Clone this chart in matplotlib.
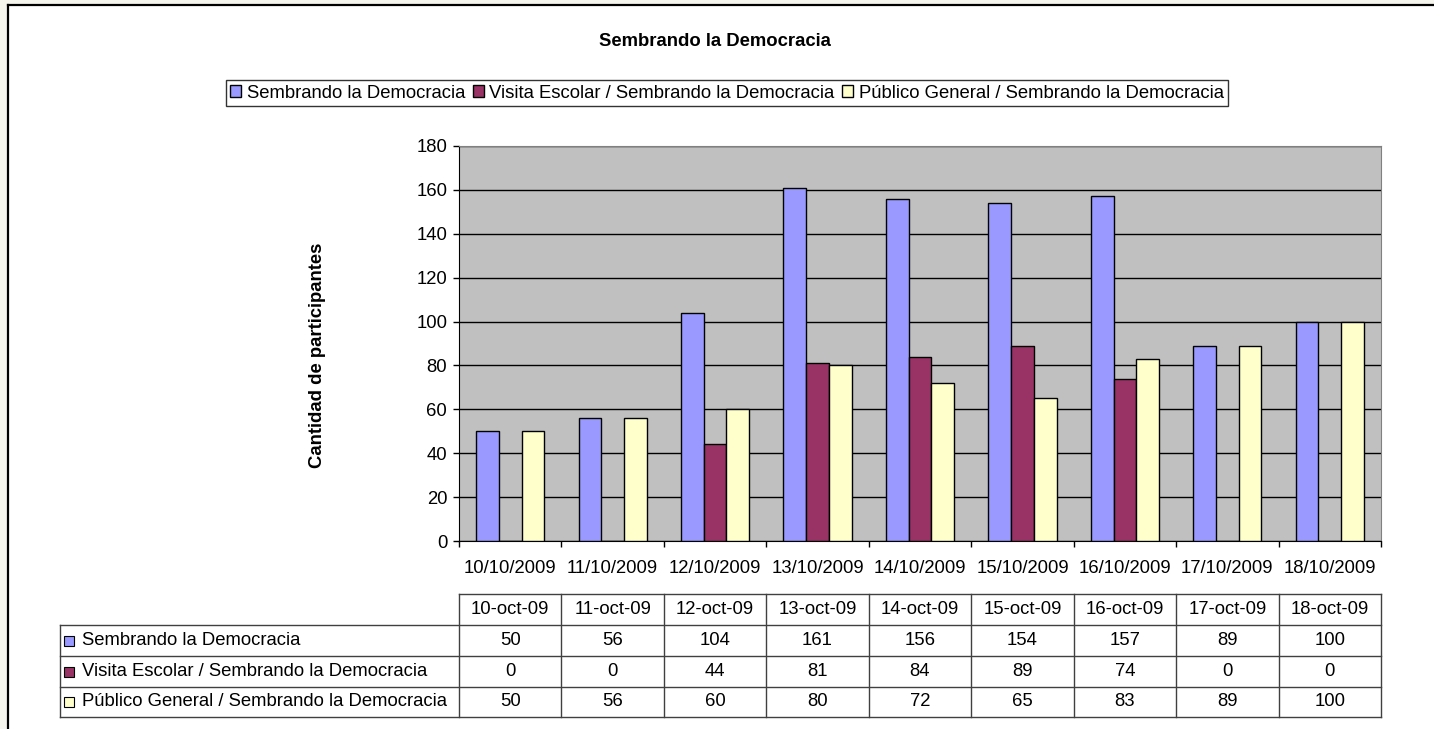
import matplotlib
matplotlib.use("Agg")
import matplotlib.pyplot as plt
import numpy as np
from matplotlib.patches import Rectangle
from matplotlib.lines import Line2D

plt.rcParams['font.family'] = ['Liberation Sans', 'DejaVu Sans']

# data
axis_dates = ['10/10/2009', '11/10/2009', '12/10/2009', '13/10/2009', '14/10/2009',
              '15/10/2009', '16/10/2009', '17/10/2009', '18/10/2009']
table_dates = ['10-oct-09', '11-oct-09', '12-oct-09', '13-oct-09', '14-oct-09',
               '15-oct-09', '16-oct-09', '17-oct-09', '18-oct-09']
series_names = ['Sembrando la Democracia',
                'Visita Escolar / Sembrando la Democracia',
                'Público General / Sembrando la Democracia']
sembrando = [50, 56, 104, 161, 156, 154, 157, 89, 100]
visita = [0, 0, 44, 81, 84, 89, 74, 0, 0]
publico = [50, 56, 60, 80, 72, 65, 83, 89, 100]
colors = ['#9999FF', '#993366', '#FFFFCC']

W, H = 1434, 729
FS = 13.3


def fx(x):
    return x / W


def fy(y):
    return 1 - y / H


fig = plt.figure(figsize=(W / 100, H / 100), dpi=100, facecolor='white')
# off-white margin outside the chart border, black left/top border
fig.patches.append(Rectangle((0, 0), fx(8), 1, transform=fig.transFigure,
                             facecolor='#f5f5ee', edgecolor='none', zorder=-5))
fig.patches.append(Rectangle((0, fy(5)), 1, 5 / H, transform=fig.transFigure,
                             facecolor='#f5f5ee', edgecolor='none', zorder=-5))
fig.lines.append(Line2D([fx(8), fx(8)], [0, fy(5)], transform=fig.transFigure, color='black', lw=1.6))
fig.lines.append(Line2D([fx(8), 1], [fy(5), fy(5)], transform=fig.transFigure, color='black', lw=1.6))

left, right, top, bottom = 459, 1381, 146, 541
ax = fig.add_axes([fx(left), fy(bottom), fx(right) - fx(left), fy(top) - fy(bottom)])
ax.set_facecolor('#C0C0C0')

n = len(axis_dates)
x = np.arange(n)
w = 1 / 4.5
all_series = [sembrando, visita, publico]
handles = []
for i, (vals, c) in enumerate(zip(all_series, colors)):
    b = ax.bar(x + (i - 1) * w, vals, w, color=c, edgecolor='black', linewidth=1, zorder=3,
               label=series_names[i])
    handles.append(b)

ax.set_xlim(-0.5, n - 0.5)
ax.set_ylim(0, 180)
ax.set_yticks(np.arange(0, 181, 20))
ax.yaxis.grid(True, color='black', linewidth=1)
ax.set_axisbelow(True)
ax.set_xticks(x)
ax.set_xticklabels(axis_dates, fontsize=FS)
ax.set_xticks(np.arange(-0.5, n, 1), minor=True)
ax.tick_params(axis='x', which='major', length=0, pad=14)
ax.tick_params(axis='x', which='minor', length=4.5, width=1, direction='out')
ax.tick_params(axis='y', length=4.5, width=1, direction='out', labelsize=FS, pad=4)
for side in ['top', 'right']:
    ax.spines[side].set_color('#808080')
for side in ['left', 'bottom']:
    ax.spines[side].set_color('black')

fig.text(fx(317), fy(355), 'Cantidad de participantes', rotation=90,
         ha='center', va='center', fontsize=FS, fontweight='bold')
fig.text(fx(715), fy(42), 'Sembrando la Democracia', ha='center', va='center',
         fontsize=FS, fontweight='bold')

leg = fig.legend(handles=handles, loc='upper center', bbox_to_anchor=(fx(727), fy(80)),
                 ncol=3, fontsize=FS, frameon=True, fancybox=False, handlelength=0.6,
                 handleheight=0.6, handletextpad=0.3, columnspacing=0.4, borderpad=0.25,
                 borderaxespad=0)
leg.get_frame().set_edgecolor('black')
leg.get_frame().set_linewidth(1)

# data table below the chart
tl = 60
col_w = (right - left) / n
row_y = [594, 625, 656, 687, 717]
lc = '#404040'


def hline(x0, x1, y):
    fig.lines.append(Line2D([fx(x0), fx(x1)], [fy(y), fy(y)], transform=fig.transFigure, color=lc, lw=1))


def vline(xv, y0, y1):
    fig.lines.append(Line2D([fx(xv), fx(xv)], [fy(y0), fy(y1)], transform=fig.transFigure, color=lc, lw=1))


hline(left, right, row_y[0])
for yv in row_y[1:]:
    hline(tl, right, yv)
vline(tl, row_y[1], row_y[-1])
for j in range(n + 1):
    vline(left + j * col_w, row_y[0], row_y[-1])

for j, d in enumerate(table_dates):
    fig.text(fx(left + (j + 0.5) * col_w), fy((row_y[0] + row_y[1]) / 2), d,
             ha='center', va='center', fontsize=FS)

for i, (name, vals, c) in enumerate(zip(series_names, all_series, colors)):
    yc = (row_y[i + 1] + row_y[i + 2]) / 2
    fig.patches.append(Rectangle((fx(64), fy(yc + 5)), fx(10), 10 / H, transform=fig.transFigure,
                                 facecolor=c, edgecolor='black', lw=0.8))
    fig.text(fx(82), fy(yc), name, ha='left', va='center', fontsize=FS)
    for j, v in enumerate(vals):
        fig.text(fx(left + (j + 0.5) * col_w), fy(yc), str(v), ha='center', va='center', fontsize=FS)

fig.savefig('out.png', dpi=100, facecolor=fig.get_facecolor())
